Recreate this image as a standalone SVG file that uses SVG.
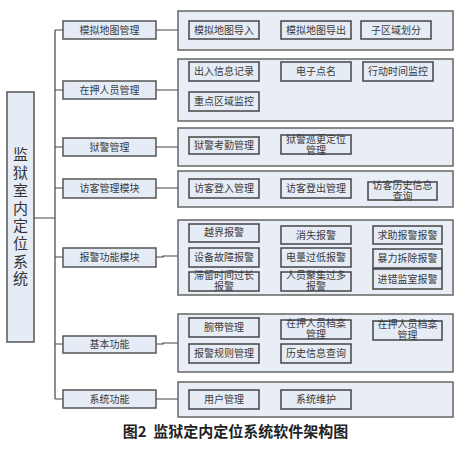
<svg xmlns="http://www.w3.org/2000/svg" width="470" height="454" viewBox="0 0 470 454">
<style>
.b{fill:#e6ecf6;stroke:#555;stroke-width:1.5}
.g{fill:#e8edf6;stroke:#666;stroke-width:1.5}
.l{fill:#e6ecf6;stroke:#444;stroke-width:1.5}
.t{font-family:"Liberation Serif","Noto Sans CJK SC",serif;font-size:10px;fill:#3a3a3a;text-anchor:middle}
.c{fill:none;stroke:#444;stroke-width:1.2}
.r{font-family:"Liberation Serif","Noto Sans CJK SC",serif;font-size:15px;fill:#333;text-anchor:middle}
</style>
<rect width="470" height="454" fill="#fff"/>
<g id="connectors">
<path class="c" d="M34 218H55M55 30V399M55 30H63M55 90H63M55 147H63M55 188H63M55 257H63M55 344H63M55 399H63"/>
<path class="c" d="M156 30H178M156 90H178M156 147H178M156 188H178M156 257H163V256H178M156 344H163V343H178M156 399H178"/>
</g>
<g id="root">
<rect class="b" x="7" y="92" width="27" height="250"/>
<text class="r" x="20.5" y="160">监</text>
<text class="r" x="20.5" y="178">狱</text>
<text class="r" x="20.5" y="196">室</text>
<text class="r" x="20.5" y="214">内</text>
<text class="r" x="20.5" y="231">定</text>
<text class="r" x="20.5" y="249">位</text>
<text class="r" x="20.5" y="267">系</text>
<text class="r" x="20.5" y="284">统</text>
</g>
<g id="n1"><rect class="b" x="63" y="21" width="93" height="18"/><text class="t" x="109.5" y="34">模拟地图管理</text></g>
<g id="n2"><rect class="b" x="63" y="81" width="93" height="18"/><text class="t" x="109.5" y="94">在押人员管理</text></g>
<g id="n3"><rect class="b" x="63" y="138" width="93" height="18"/><text class="t" x="109.5" y="151">狱警管理</text></g>
<g id="n4"><rect class="b" x="63" y="179" width="93" height="19"/><text class="t" x="109.5" y="192">访客管理模块</text></g>
<g id="n5"><rect class="b" x="63" y="248" width="93" height="19"/><text class="t" x="109.5" y="261">报警功能模块</text></g>
<g id="n6"><rect class="b" x="63" y="336" width="93" height="17"/><text class="t" x="109.5" y="348">基本功能</text></g>
<g id="n7"><rect class="b" x="63" y="390" width="93" height="18"/><text class="t" x="109.5" y="403">系统功能</text></g>

<g id="g1">
<rect class="g" x="178" y="11" width="275" height="39"/>
<rect class="l" x="189" y="21" width="70" height="18"/><text class="t" x="224" y="34">模拟地图导入</text>
<rect class="l" x="281" y="21" width="70" height="18"/><text class="t" x="316" y="34">模拟地图导出</text>
<rect class="l" x="361" y="21" width="70" height="18"/><text class="t" x="396" y="34">子区域划分</text>
</g>
<g id="g2">
<rect class="g" x="178" y="59" width="275" height="62"/>
<rect class="l" x="189" y="62" width="70" height="19"/><text class="t" x="224" y="75">出入信息记录</text>
<rect class="l" x="281" y="62" width="70" height="19"/><text class="t" x="316" y="75">电子点名</text>
<rect class="l" x="363" y="62" width="70" height="19"/><text class="t" x="398" y="75">行动时间监控</text>
<rect class="l" x="189" y="92" width="70" height="19"/><text class="t" x="224" y="105">重点区域监控</text>
</g>
<g id="g3">
<rect class="g" x="178" y="128" width="275" height="38"/>
<rect class="l" x="189" y="137" width="70" height="17"/><text class="t" x="224" y="149">狱警考勤管理</text>
<rect class="l" x="281" y="135" width="70" height="19"/><text class="t" x="316" y="143">狱警巡更定位</text><text class="t" x="316" y="154">管理</text>
</g>
<g id="g4">
<rect class="g" x="178" y="171" width="275" height="36"/>
<rect class="l" x="189" y="179" width="70" height="19"/><text class="t" x="224" y="192">访客登入管理</text>
<rect class="l" x="281" y="179" width="70" height="19"/><text class="t" x="316" y="192">访客登出管理</text>
<rect class="l" x="368" y="182" width="69" height="18"/><text class="t" x="402.5" y="189">访客历史信息</text><text class="t" x="402.5" y="200">查询</text>
</g>
<g id="g5">
<rect class="g" x="178" y="220" width="275" height="75"/>
<rect class="l" x="189" y="224" width="70" height="18"/><text class="t" x="224" y="236">越界报警</text>
<rect class="l" x="281" y="226" width="70" height="18"/><text class="t" x="316" y="239">消失报警</text>
<rect class="l" x="373" y="226" width="69" height="18"/><text class="t" x="407.5" y="239">求助报警报警</text>
<rect class="l" x="189" y="248" width="70" height="19"/><text class="t" x="224" y="261">设备故障报警</text>
<rect class="l" x="281" y="248" width="70" height="19"/><text class="t" x="316" y="261">电量过低报警</text>
<rect class="l" x="373" y="249" width="69" height="19"/><text class="t" x="407.5" y="262">暴力拆除报警</text>
<rect class="l" x="189" y="272" width="70" height="19"/><text class="t" x="224" y="279">滞留时间过长</text><text class="t" x="224" y="290">报警</text>
<rect class="l" x="281" y="272" width="70" height="19"/><text class="t" x="316" y="279">人员聚集过多</text><text class="t" x="316" y="290">报警</text>
<rect class="l" x="373" y="269" width="69" height="20"/><text class="t" x="407.5" y="283">进错监室报警</text>
</g>
<g id="g6">
<rect class="g" x="178" y="314" width="275" height="58"/>
<rect class="l" x="189" y="318" width="70" height="19"/><text class="t" x="224" y="331">腕带管理</text>
<rect class="l" x="281" y="320" width="70" height="19"/><text class="t" x="316" y="327">在押人员档案</text><text class="t" x="316" y="338">管理</text>
<rect class="l" x="373" y="321" width="69" height="19"/><text class="t" x="407.5" y="328">在押人员档案</text><text class="t" x="407.5" y="339">管理</text>
<rect class="l" x="189" y="344" width="70" height="19"/><text class="t" x="224" y="357">报警规则管理</text>
<rect class="l" x="281" y="344" width="70" height="19"/><text class="t" x="316" y="357">历史信息查询</text>
</g>
<g id="g7">
<rect class="g" x="178" y="382" width="275" height="35"/>
<rect class="l" x="189" y="390" width="70" height="19"/><text class="t" x="224" y="403">用户管理</text>
<rect class="l" x="281" y="390" width="70" height="19"/><text class="t" x="316" y="403">系统维护</text>
</g>
<text x="235.5" y="437" style="font-family:'Noto Sans CJK SC','Liberation Sans',sans-serif;font-size:15px;font-weight:bold;fill:#222;text-anchor:middle;white-space:pre">图2  监狱定内定位系统软件架构图</text>
</svg>
